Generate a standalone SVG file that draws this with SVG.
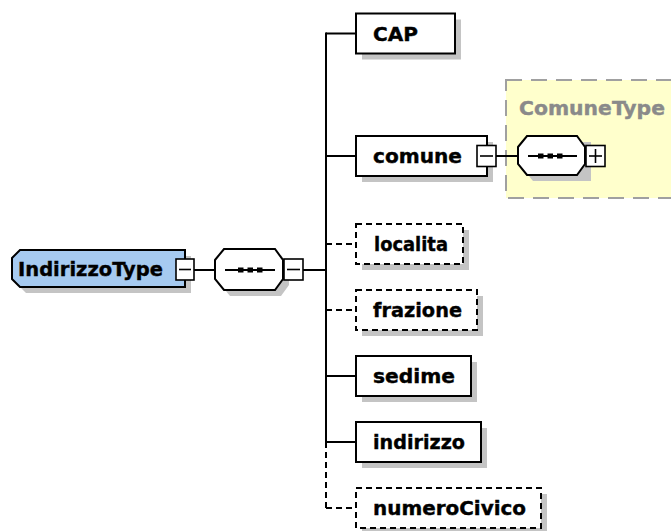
<svg xmlns="http://www.w3.org/2000/svg" width="671" height="531" viewBox="0 0 671 531">
<defs>
<style>
.bg{fill:#ffffff}
.sh{fill:#c4c4c4;stroke:none}
.box{fill:#ffffff;stroke:#000;stroke-width:2}
.opt{fill:#ffffff;stroke:#000;stroke-width:2;stroke-dasharray:6 4}
.type{fill:#a6caf0;stroke:#000;stroke-width:2}
.seq{fill:#ffffff;stroke:#000;stroke-width:2}
.btn{fill:#ffffff;stroke:#000;stroke-width:1.6}
.sign{stroke:#000;stroke-width:1.6;fill:none}
.ln{stroke:#000;stroke-width:2;fill:none}
.lnd{stroke:#000;stroke-width:2;fill:none;stroke-dasharray:6 4}
.lbl{font-family:"DejaVu Sans",Verdana,sans-serif;font-weight:bold;font-size:20px;fill:#000;stroke:#000;stroke-width:0.4}
.glbl{font-family:"DejaVu Sans",Verdana,sans-serif;font-weight:bold;font-size:20px;fill:#8a8a8a;stroke:#8a8a8a;stroke-width:0.4}
.ctype{fill:#ffffcc;stroke:#a0a0a0;stroke-width:2;stroke-dasharray:16 9}
.dot{fill:#000}
</style>
</defs>
<rect class="bg" x="0" y="0" width="671" height="531"/>

<g id="ComuneType">
<rect class="ctype" x="506" y="80" width="200" height="118"/>
<text class="glbl" x="519" y="114.5" textLength="146" lengthAdjust="spacingAndGlyphs">ComuneType</text>
</g>

<g id="connectors">
<line class="ln" x1="194" y1="270" x2="215" y2="270"/>
<line class="ln" x1="303" y1="270" x2="327" y2="270"/>
<line class="ln" x1="326" y1="32.5" x2="326" y2="442"/>
<line class="lnd" x1="326" y1="442" x2="326" y2="508"/>
<line class="ln" x1="326" y1="33.5" x2="356" y2="33.5"/>
<line class="ln" x1="326" y1="156" x2="356" y2="156"/>
<line class="lnd" x1="326" y1="244" x2="356" y2="244"/>
<line class="lnd" x1="326" y1="310" x2="356" y2="310"/>
<line class="ln" x1="326" y1="376" x2="356" y2="376"/>
<line class="ln" x1="326" y1="442" x2="356" y2="442"/>
<line class="lnd" x1="326" y1="508" x2="356" y2="508"/>
<line class="ln" x1="496" y1="156" x2="518" y2="156"/>
</g>

<g id="IndirizzoType">
<polygon class="sh" points="18,264 26,256 191,256 191,293 26,293 18,285"/>
<polygon class="type" points="12,258 20,250 185,250 185,287 20,287 12,279"/>
<text class="lbl" x="18" y="275.5" textLength="145" lengthAdjust="spacingAndGlyphs">IndirizzoType</text>
<rect class="btn" x="176" y="259" width="18" height="21"/>
<line class="sign" x1="179" y1="269.5" x2="191" y2="269.5"/>
</g>

<g id="sequence">
<polygon class="sh" points="221,266 230,255 281,255 289,266 289,285 281,296 230,296 221,285"/>
<polygon class="seq" points="215,260 224,249 275,249 283,260 283,279 275,290 224,290 215,279"/>
<line class="ln" x1="225" y1="270" x2="275" y2="270"/>
<rect class="dot" x="238" y="267.5" width="5.5" height="5"/>
<rect class="dot" x="247.5" y="267.5" width="5.5" height="5"/>
<rect class="dot" x="257" y="267.5" width="5.5" height="5"/>
<rect class="btn" x="284" y="259" width="19" height="21"/>
<line class="sign" x1="287" y1="269.5" x2="300" y2="269.5"/>
</g>

<g id="CAP">
<rect class="sh" x="362" y="19.5" width="99" height="40"/>
<rect class="box" x="356" y="13.5" width="99" height="40"/>
<text class="lbl" x="373" y="41" textLength="45" lengthAdjust="spacingAndGlyphs">CAP</text>
</g>

<g id="comune">
<rect class="sh" x="362" y="142" width="131" height="40"/>
<rect class="box" x="356" y="136" width="131" height="40"/>
<text class="lbl" x="373" y="162.5" textLength="89" lengthAdjust="spacingAndGlyphs">comune</text>
<rect class="btn" x="477" y="145.5" width="19" height="21"/>
<line class="sign" x1="480" y1="156" x2="493" y2="156"/>
</g>

<g id="comuneSequence">
<polygon class="sh" points="524,153 533,142 591,142 591,181 533,181 524,170"/>
<polygon class="seq" points="518,147 527,136 577,136 585,147 585,164 577,175 527,175 518,164"/>
<line class="ln" x1="528" y1="156" x2="577" y2="156"/>
<rect class="dot" x="538" y="153.5" width="5.5" height="5"/>
<rect class="dot" x="547.5" y="153.5" width="5.5" height="5"/>
<rect class="dot" x="557" y="153.5" width="5.5" height="5"/>
<rect class="btn" x="586" y="145.5" width="19" height="21"/>
<line class="sign" x1="589" y1="156" x2="602" y2="156"/>
<line class="sign" x1="595.5" y1="149" x2="595.5" y2="163"/>
</g>

<g id="localita">
<rect class="sh" x="362" y="230" width="107" height="40"/>
<rect class="opt" x="356" y="224" width="107" height="40"/>
<text class="lbl" x="374" y="250.5" textLength="74" lengthAdjust="spacingAndGlyphs">localita</text>
</g>

<g id="frazione">
<rect class="sh" x="362" y="296" width="121" height="40"/>
<rect class="opt" x="356" y="290" width="121" height="40"/>
<text class="lbl" x="373" y="316.5" textLength="89" lengthAdjust="spacingAndGlyphs">frazione</text>
</g>

<g id="sedime">
<rect class="sh" x="362" y="362" width="115" height="40"/>
<rect class="box" x="356" y="356" width="115" height="40"/>
<text class="lbl" x="373" y="382.5" textLength="82" lengthAdjust="spacingAndGlyphs">sedime</text>
</g>

<g id="indirizzo">
<rect class="sh" x="362" y="428" width="125" height="40"/>
<rect class="box" x="356" y="422" width="125" height="40"/>
<text class="lbl" x="373" y="448.5" textLength="92" lengthAdjust="spacingAndGlyphs">indirizzo</text>
</g>

<g id="numeroCivico">
<rect class="sh" x="362" y="494" width="185" height="40"/>
<rect class="opt" x="356" y="488" width="185" height="40"/>
<text class="lbl" x="373" y="515" textLength="153" lengthAdjust="spacingAndGlyphs">numeroCivico</text>
</g>
</svg>
